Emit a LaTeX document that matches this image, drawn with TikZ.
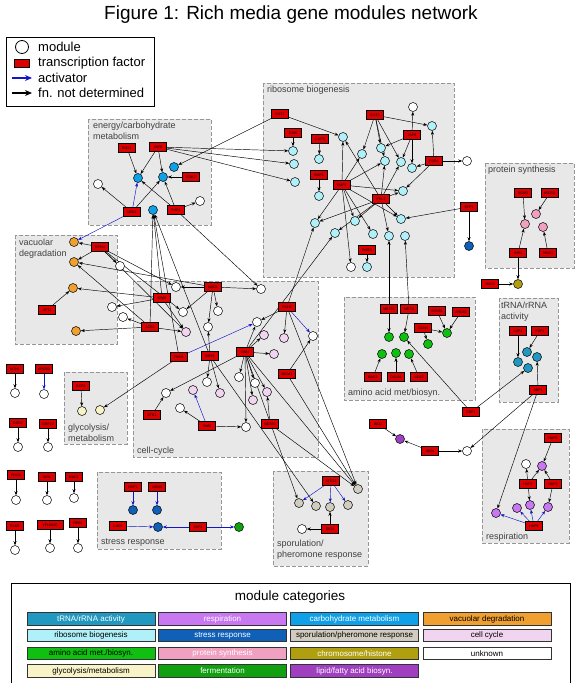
\documentclass[tikz,border=0pt]{standalone}
\usepackage{fontspec}
\setmainfont{Liberation Sans}
\usetikzlibrary{arrows.meta}
\definecolor{tfred}{RGB}{220,0,0}
\definecolor{grpfill}{RGB}{232,232,232}
\definecolor{grpline}{RGB}{150,150,150}
\definecolor{actblue}{RGB}{20,20,200}
\definecolor{trna}{RGB}{32,152,192}
\definecolor{resp}{RGB}{200,120,240}
\definecolor{carb}{RGB}{16,160,232}
\definecolor{vac}{RGB}{240,160,48}
\definecolor{ribo}{RGB}{176,240,248}
\definecolor{stress}{RGB}{16,96,184}
\definecolor{spor}{RGB}{208,204,192}
\definecolor{cellc}{RGB}{240,212,240}
\definecolor{amino}{RGB}{16,192,16}
\definecolor{prot}{RGB}{240,160,192}
\definecolor{chrom}{RGB}{176,160,16}
\definecolor{glyc}{RGB}{248,244,200}
\definecolor{ferm}{RGB}{16,160,16}
\definecolor{lipid}{RGB}{160,64,192}
\pgfdeclarelayer{back}
\pgfsetlayers{back,main}
\tikzset{
  modbox/.style={circle, draw, fill=white, line width=0.5pt, minimum size=9pt, inner sep=0pt},
  tfbox/.style={rectangle, draw, fill=tfred, line width=0.5pt, minimum width=17pt, minimum height=9pt, inner sep=0.5pt, font=\fontsize{3.6}{4}\selectfont},
  grp/.style={draw=grpline, dash pattern=on 4pt off 2pt, fill=grpfill, line width=0.7pt},
  grplabel/.style={inner sep=0pt, align=left, text=black!75, font=\fontsize{9}{10.5}\selectfont},
  reg/.style={-{Stealth[length=4pt,width=3pt]}, line width=0.45pt},
  act/.style={reg, draw=actblue},
  catcell/.style={draw=black!80, line width=0.8pt, minimum width=128pt, minimum height=12.5pt, inner sep=0pt, font=\fontsize{8}{9}\selectfont},
  legtext/.style={anchor=west, inner sep=0pt, font=\fontsize{13}{15}\selectfont},
}
\begin{document}
\begin{tikzpicture}[x=1pt,y=-1pt]
\useasboundingbox (0,0) rectangle (581,683);

% title and legend
\node[font=\fontsize{19}{22}\selectfont, anchor=base] (title) at (291,19) {Figure 1: Rich media gene modules network};
\draw[line width=1pt] (6,37) rectangle (154,106);
\node[modbox, minimum size=13pt, line width=0.8pt] (legmod) at (22,47) {};
\node[draw, fill=tfred, minimum width=15pt, minimum height=8pt, inner sep=0pt] (legtf) at (21.5,63) {};
\coordinate (legas) at (12,78);
\coordinate (legae) at (32,78);
\coordinate (legbs) at (12,93);
\coordinate (legbe) at (32,93);
\draw[draw=actblue, line width=1.6pt, -{Stealth[length=7pt,width=6pt]}] (legas) -- (legae);
\draw[line width=1.6pt, -{Stealth[length=7pt,width=6pt]}] (legbs) -- (legbe);
\node[legtext] (legt1) at (38,47) {module};
\node[legtext] (legt2) at (38,63) {transcription factor};
\node[legtext] (legt3) at (38,78) {activator};
\node[legtext] (legt4) at (38,93) {fn. not determined};

% module boxes
\begin{pgfonlayer}{back}
\draw[grp] (88,119) rectangle (211,225);
\draw[grp] (263,83) rectangle (454,277);
\draw[grp] (485,163) rectangle (574,268);
\draw[grp] (15,235) rectangle (117,344);
\draw[grp] (133,281) rectangle (318,457);
\draw[grp] (344,297) rectangle (475,400);
\draw[grp] (499,298) rectangle (558,402);
\draw[grp] (482,429) rectangle (569,543);
\draw[grp] (64,372) rectangle (127,444);
\draw[grp] (97,472) rectangle (221,549);
\draw[grp] (273,471) rectangle (368,566);
\end{pgfonlayer}
\node[grplabel, anchor=north west] (lbenergy) at (93,122) {energy/carbohydrate\\metabolism};
\node[grplabel, anchor=north west] (lbribo) at (267,86) {ribosome biogenesis};
\node[grplabel, anchor=north west] (lbprot) at (488,166) {protein synthesis};
\node[grplabel, anchor=north west] (lbvac) at (19,239) {vacuolar\\degradation};
\node[grplabel, anchor=north west] (lbtrna) at (501,302) {tRNA/rRNA\\activity};
\node[grplabel, anchor=base west] (lbcell) at (137,453) {cell-cycle};
\node[grplabel, anchor=base west] (lbamino) at (348,395) {amino acid met/biosyn.};
\node[grplabel, anchor=base west] (lbresp) at (486,539) {respiration};
\node[grplabel, anchor=north west] (lbglyc) at (68,424) {glycolysis/\\metabolism};
\node[grplabel, anchor=base west] (lbstress) at (101,544) {stress response};
\node[grplabel, anchor=north west] (lbspor) at (277,540) {sporulation/\\pheromone response};

% energy/carbohydrate metabolism
\node[tfbox] (rox1) at (127,148) {ROX1};
\node[tfbox] (yap6) at (158,147) {YAP6};
\node[tfbox] (sok2) at (191,177) {SOK2};
\node[tfbox] (nrg1) at (132,212) {NRG1};
\node[tfbox] (phd1) at (176,210) {PHD1};
\node[modbox, fill=carb] (en1) at (138,178) {};
\node[modbox, fill=carb] (en2) at (163,177) {};
\node[modbox, fill=carb] (en3) at (174,167) {};
\node[modbox, fill=carb] (en4) at (153,210) {};
\node[modbox] (enw1) at (98,184) {};
\node[modbox] (enw2) at (200,201) {};

% ribosome biogenesis
\node[tfbox] (gat1) at (280,114) {GAT1};
\node[tfbox] (cin5) at (293,133) {CIN5};
\node[tfbox] (cup9) at (320,139) {CUP9};
\node[tfbox] (smp1) at (319,175) {SMP1};
\node[tfbox] (rap1) at (342,185) {RAP1};
\node[tfbox] (fhl1) at (381,199) {FHL1};
\node[tfbox] (gat3) at (375,115) {GAT3};
\node[tfbox] (yap5) at (412,135) {YAP5};
\node[tfbox] (pdr1) at (434,161) {PDR1};
\node[tfbox] (rme1) at (367,250) {RME1};
\node[tfbox] (sfp1) at (469,207) {SFP1};
\node[modbox, fill=ribo] (rb1) at (293,151) {};
\node[modbox, fill=ribo] (rb2) at (294,164) {};
\node[modbox, fill=ribo] (rb3) at (295,182) {};
\node[modbox, fill=ribo] (rb4) at (319,159) {};
\node[modbox, fill=ribo] (rb5) at (319,196) {};
\node[modbox, fill=ribo] (rb6) at (343,137) {};
\node[modbox, fill=ribo] (rb7) at (362,154) {};
\node[modbox, fill=ribo] (rb8) at (381,148) {};
\node[modbox, fill=ribo] (rb9) at (385,161) {};
\node[modbox, fill=ribo] (rb10) at (401,162) {};
\node[modbox, fill=ribo] (rb11) at (412,168) {};
\node[modbox, fill=ribo] (rb12) at (432,126) {};
\node[modbox, fill=ribo] (rb13) at (403,191) {};
\node[modbox, fill=ribo] (rb14) at (315,223) {};
\node[modbox, fill=ribo] (rb15) at (335,233) {};
\node[modbox, fill=ribo] (rb16) at (355,221) {};
\node[modbox, fill=ribo] (rb17) at (373,234) {};
\node[modbox, fill=ribo] (rb18) at (389,236) {};
\node[modbox, fill=ribo] (rb19) at (401,219) {};
\node[modbox, fill=ribo] (rb20) at (405,236) {};
\node[modbox, fill=ribo] (rb21) at (367,267) {};
\node[modbox] (rbw1) at (413,107) {};
\node[modbox] (rbw2) at (467,161) {};
\node[modbox] (rbw3) at (351,267) {};
\node[modbox, fill=stress] (sfpb) at (469,246) {};

% protein synthesis
\node[tfbox] (rgm1) at (523,193) {RGM1};
\node[tfbox] (mss11) at (550,193) {MSS11};
\node[tfbox] (hir1) at (518,253) {HIR1};
\node[tfbox] (hms1) at (548,253) {HMS1};
\node[tfbox] (hal9) at (490,284) {HAL9};
\node[modbox, fill=prot] (ps1) at (536,214) {};
\node[modbox, fill=prot] (ps2) at (525,224) {};
\node[modbox, fill=prot] (ps3) at (543,227) {};
\node[modbox, fill=chrom] (ch1) at (518,284) {};

% vacuolar degradation
\node[tfbox] (rpn4) at (100,247) {RPN4};
\node[tfbox] (aft2) at (47,310) {AFT2};
\node[modbox, fill=vac] (va1) at (74,242) {};
\node[modbox, fill=vac] (va2) at (74,262) {};
\node[modbox, fill=vac] (va3) at (73,288) {};
\node[modbox, fill=vac] (va4) at (76,331) {};
\node[modbox] (vaw1) at (120,266) {};
\node[modbox] (vaw2) at (112,307) {};
\node[modbox] (vaw3) at (123,317) {};

% cell-cycle
\node[tfbox] (swi6) at (162,298) {SWI6};
\node[tfbox] (ndd1) at (213,287) {NDD1};
\node[tfbox] (ace2) at (150,327) {ACE2};
\node[tfbox] (fkh1) at (179,357) {FKH1};
\node[tfbox] (mbp1) at (210,356) {MBP1};
\node[tfbox] (swi4) at (245,352) {SWI4};
\node[tfbox] (fkh2) at (287,307) {FKH2};
\node[tfbox] (mcm1) at (287,374) {MCM1};
\node[tfbox] (stb1) at (152,415) {STB1};
\node[tfbox] (swi5) at (207,426) {SWI5};
\node[tfbox] (ndt80) at (270,424) {NDT80};
\node[modbox] (ccw1) at (176,287) {};
\node[modbox] (ccw2) at (183,312) {};
\node[modbox] (ccw3) at (218,311) {};
\node[modbox] (ccw4) at (208,327) {};
\node[modbox] (ccw5) at (261,289) {};
\node[modbox] (ccw6) at (257,322) {};
\node[modbox] (ccw7) at (313,336) {};
\node[modbox] (ccw8) at (207,382) {};
\node[modbox] (ccw9) at (239,377) {};
\node[modbox] (ccw10) at (255,383) {};
\node[modbox] (ccw11) at (166,393) {};
\node[modbox] (ccw12) at (180,408) {};
\node[modbox] (ccw13) at (246,427) {};
\node[modbox, fill=cellc] (ccp1) at (186,332) {};
\node[modbox, fill=cellc] (ccp2) at (264,335) {};
\node[modbox, fill=cellc] (ccp3) at (284,338) {};
\node[modbox, fill=cellc] (ccp4) at (274,354) {};
\node[modbox, fill=cellc] (ccp5) at (193,390) {};
\node[modbox, fill=cellc] (ccp6) at (220,393) {};
\node[modbox, fill=cellc] (ccp7) at (253,400) {};
\node[modbox, fill=cellc] (ccp8) at (267,392) {};

% glycolysis/metabolism
\node[tfbox] (gcr1) at (81,386) {GCR1};
\node[modbox, fill=glyc] (gy1) at (82,411) {};
\node[modbox, fill=glyc] (gy2) at (100,410) {};

% single regulators
\node[tfbox] (mth1) at (15,369) {MTH1};
\node[modbox] (mth1m) at (15,393) {};
\node[tfbox] (aro80) at (44,369) {ARO80};
\node[modbox] (aro80m) at (44,394) {};
\node[tfbox] (gcr2) at (18,423) {GCR2};
\node[modbox] (gcr2m) at (18,447) {};
\node[tfbox] (grf10) at (48,424) {GRF10};
\node[modbox] (grf10m) at (48,447) {};
\node[tfbox] (pho4) at (16,475) {PHO4};
\node[modbox] (pho4m) at (16,500) {};
\node[tfbox] (ixr1) at (47,477) {IXR1};
\node[modbox] (ixr1m) at (47,500) {};
\node[tfbox] (mac1) at (74,477) {MAC1};
\node[modbox] (mac1m) at (74,498) {};
\node[tfbox] (rlm1) at (15,526) {RLM1};
\node[modbox] (rlm1m) at (15,550) {};
\node[tfbox, minimum width=26pt] (yfl) at (50,525) {YFL044C};
\node[modbox] (yflm) at (50,548) {};
\node[tfbox] (reb1) at (78,523) {REB1};
\node[modbox] (reb1m) at (78,548) {};

% amino acid met/biosyn.
\node[tfbox] (met31) at (389,309) {MET31};
\node[tfbox] (met4) at (409,309) {MET4};
\node[tfbox] (arg81) at (437,311) {ARG81};
\node[tfbox] (arg80) at (461,312) {ARG80};
\node[tfbox] (gcn4) at (423,328) {GCN4};
\node[tfbox] (bas1) at (373,377) {BAS1};
\node[tfbox] (dal81) at (396,377) {DAL81};
\node[tfbox] (leu3) at (419,377) {LEU3};
\node[tfbox] (cbf1) at (471,412) {CBF1};
\node[modbox, fill=amino] (aa1) at (389,337) {};
\node[modbox, fill=amino] (aa2) at (404,337) {};
\node[modbox, fill=amino] (aa3) at (447,333) {};
\node[modbox, fill=amino] (aa4) at (428,344) {};
\node[modbox, fill=amino] (aa5) at (382,354) {};
\node[modbox, fill=amino] (aa6) at (396,353) {};
\node[modbox, fill=amino] (aa7) at (409,354) {};

% tRNA/rRNA activity
\node[tfbox] (azf1) at (518,331) {AZF1};
\node[tfbox] (fzf1) at (540,331) {FZF1};
\node[tfbox] (abf1) at (538,390) {ABF1};
\node[modbox, fill=trna] (tr1) at (527,352) {};
\node[modbox, fill=trna] (tr2) at (518,362) {};
\node[modbox, fill=trna] (tr3) at (537,357) {};
\node[modbox, fill=trna] (tr4) at (528,368) {};

% lipid and respiration
\node[tfbox] (ino2) at (378,424) {INO2};
\node[tfbox] (ino4) at (430,451) {INO4};
\node[modbox, fill=lipid] (lp1) at (400,439) {};
\node[modbox] (inow) at (467,451) {};
\node[tfbox] (hap5) at (553,438) {HAP5};
\node[tfbox] (hap2) at (528,484) {HAP2};
\node[tfbox] (hap3) at (553,484) {HAP3};
\node[tfbox] (hap4) at (534,526) {HAP4};
\node[modbox, fill=resp] (rstop) at (542,466) {};
\node[modbox] (rsw) at (526,464) {};
\node[modbox, fill=resp] (rs1) at (496,513) {};
\node[modbox, fill=resp] (rs2) at (517,508) {};
\node[modbox, fill=resp] (rs3) at (530,505) {};
\node[modbox, fill=resp] (rs4) at (548,507) {};

% stress response
\node[tfbox] (hsf1) at (133,487) {HSF1};
\node[tfbox] (msn4) at (157,487) {MSN4};
\node[tfbox] (cad1) at (118,526) {CAD1};
\node[tfbox] (yap1) at (198,527) {YAP1};
\node[modbox, fill=stress] (st1) at (133,510) {};
\node[modbox, fill=stress] (st2) at (157,510) {};
\node[modbox, fill=stress] (st3) at (158,527) {};
\node[modbox, fill=ferm] (stg) at (239,527) {};

% sporulation/pheromone response
\node[tfbox] (ste12) at (331,481) {STE12};
\node[tfbox] (dig1) at (330,529) {DIG1};
\node[modbox, fill=spor] (sg1) at (299,503) {};
\node[modbox, fill=spor] (sg2) at (316,506) {};
\node[modbox, fill=spor] (sg3) at (330,507) {};
\node[modbox, fill=spor] (sg4) at (348,505) {};
\node[modbox, fill=spor] (sg5) at (358,489) {};
\node[modbox] (spw) at (302,529) {};

% regulation edges
\begin{pgfonlayer}{back}
\draw[reg] (rox1) -- (en1);
\draw[reg] (yap6) -- (en1);
\draw[reg] (yap6) -- (en2);
\draw[reg] (sok2) -- (en2);
\draw[act] (nrg1) -- (en1);
\draw[reg] (nrg1) -- (enw1);
\draw[reg] (nrg1) -- (en2);
\draw[reg] (phd1) -- (en2);
\draw[reg] (phd1) -- (en1);
\draw[reg] (phd1) -- (enw2);
\draw[reg] (gat1) -- (en3);
\draw[reg] (yap6) -- (rb1);
\draw[reg] (yap6) -- (rb2);
\draw[reg] (yap6) -- (rb3);
\draw[act] (nrg1) -- (va1);
\draw[reg] (phd1) -- (ccw5);
\draw[reg] (gat1) -- (rb6);
\draw[reg] (cin5) -- (rb1);
\draw[reg] (cup9) -- (rb4);
\draw[reg] (smp1) -- (rb5);
\draw[reg] (rap1) -- (rb6);
\draw[reg] (rap1) -- (rb7);
\draw[reg] (rap1) -- (rb9);
\draw[reg] (rap1) -- (rb13);
\draw[reg] (rap1) -- (rb14);
\draw[reg] (rap1) -- (rb16);
\draw[reg] (rap1) -- (rb17);
\draw[reg] (rap1) -- (rb19);
\draw[reg] (rap1) -- (rbw3);
\draw[reg] (gat3) -- (rb12);
\draw[reg] (gat3) -- (rb7);
\draw[reg] (gat3) -- (rb8);
\draw[reg] (gat3) -- (rb10);
\draw[reg] (gat3) -- (rb9);
\draw[reg] (yap5) -- (rb8);
\draw[reg] (yap5) -- (rb10);
\draw[reg] (yap5) -- (rb11);
\draw[reg] (yap5) -- (rbw1);
\draw[reg] (pdr1) -- (rb12);
\draw[reg] (pdr1) -- (rbw2);
\draw[reg] (pdr1) -- (rb11);
\draw[reg] (pdr1) -- (rb13);
\draw[reg] (fhl1) -- (rb6);
\draw[reg] (fhl1) -- (rb14);
\draw[reg] (fhl1) -- (rb15);
\draw[reg] (fhl1) -- (rb16);
\draw[reg] (fhl1) -- (rb18);
\draw[reg] (fhl1) -- (rb19);
\draw[reg] (fhl1) -- (rb13);
\draw[reg] (fhl1) -- (rb9);
\draw[reg] (fhl1) -- (rb10);
\draw[reg] (sfp1) -- (rb19);
\draw[reg] (sfp1) -- (sfpb);
\draw[reg] (rme1) -- (rb21);
\draw[reg] (met31) -- (rb18);
\draw[reg] (met4) -- (rb20);
\draw[reg] (rgm1) -- (ps2);
\draw[reg] (mss11) -- (ps1);
\draw[reg] (hir1) -- (ps2);
\draw[reg] (hms1) -- (ps3);
\draw[reg] (hir1) -- (ch1);
\draw[reg] (hal9) -- (ch1);
\draw[reg] (rpn4) -- (va1);
\draw[reg] (rpn4) -- (va2);
\draw[reg] (rpn4) -- (vaw1);
\draw[reg] (aft2) -- (va3);
\draw[reg] (ace2) -- (va4);
\draw[reg] (ace2) -- (vaw3);
\draw[reg] (swi6) -- (vaw2);
\draw[reg] (swi6) -- (va3);
\draw[reg] (ndd1) -- (va2);
\draw[reg] (ace2) -- (va2);
\draw[reg] (rpn4) -- (ccw1);
\draw[reg] (rpn4) -- (ccp1);
\draw[reg] (rpn4) -- (ccw2);
\draw[reg] (ndd1) -- (ccw1);
\draw[reg] (ndd1) -- (ccw5);
\draw[reg] (ndd1) -- (ccw3);
\draw[reg] (ndd1) -- (ccw4);
\draw[reg] (ndd1) -- (ccw2);
\draw[reg] (swi6) -- (ccp1);
\draw[reg] (ace2) -- (ccp1);
\draw[act] (fkh1) -- (ccw6);
\draw[act] (fkh2) -- (ccw7);
\draw[reg] (fkh2) -- (ccw6);
\draw[reg] (fkh2) -- (ccp3);
\draw[reg] (swi4) -- (ccp2);
\draw[reg] (swi4) -- (ccp4);
\draw[reg] (swi4) -- (ccw9);
\draw[reg] (swi4) -- (ccw10);
\draw[reg] (swi4) -- (ccp7);
\draw[reg] (swi4) -- (ccp8);
\draw[reg] (swi4) -- (ccw13);
\draw[reg] (swi4) -- (ccw11);
\draw[reg] (swi4) -- (ccw6);
\draw[reg] (mbp1) -- (ccw4);
\draw[reg] (mbp1) -- (ccw8);
\draw[reg] (mbp1) -- (ccp6);
\draw[act] (swi5) -- (ccp5);
\draw[reg] (swi5) -- (ccw13);
\draw[reg] (swi5) -- (ccw12);
\draw[reg] (stb1) -- (ccw11);
\draw[reg] (ndt80) -- (ccp8);
\draw[reg] (mcm1) -- (ccw7);
\draw[reg] (swi6) -- (en4);
\draw[reg] (ace2) -- (en4);
\draw[reg] (fkh1) -- (en4);
\draw[reg] (mbp1) -- (en4);
\draw[reg] (swi4) -- (sg1);
\draw[reg] (mbp1) -- (sg2);
\draw[reg] (fkh2) -- (sg5);
\draw[reg] (mcm1) -- (sg5);
\draw[reg] (swi4) -- (sg5);
\draw[reg] (ndt80) -- (sg5);
\draw[reg] (fkh2) -- (rb14);
\draw[reg] (swi4) -- (rb15);
\draw[reg] (fkh1) -- (gy2);
\draw[reg] (gcr1) -- (gy1);
\draw[act] (ste12) -- (sg1);
\draw[act] (ste12) -- (sg3);
\draw[act] (ste12) -- (sg4);
\draw[reg] (dig1) -- (sg3);
\draw[reg] (dig1) -- (spw);
\draw[act] (hsf1) -- (st1);
\draw[act] (msn4) -- (st2);
\draw[act] (cad1) -- (st3);
\draw[act] (yap1) -- (st3);
\draw[act] (yap1) -- (stg);
\draw[reg] (met31) -- (aa1);
\draw[reg] (met4) -- (aa2);
\draw[reg] (arg81) -- (aa3);
\draw[reg] (arg80) -- (aa3);
\draw[reg] (gcn4) -- (aa3);
\draw[reg] (gcn4) -- (aa4);
\draw[reg] (bas1) -- (aa5);
\draw[reg] (dal81) -- (aa6);
\draw[reg] (leu3) -- (aa7);
\draw[reg] (cbf1) -- (aa2);
\draw[reg] (cbf1) -- (tr4);
\draw[reg] (azf1) -- (tr2);
\draw[reg] (fzf1) -- (tr1);
\draw[reg] (abf1) -- (tr3);
\draw[reg] (abf1) -- (inow);
\draw[reg] (abf1) -- (rs1);
\draw[reg] (ino2) -- (lp1);
\draw[reg] (ino4) -- (lp1);
\draw[reg] (ino4) -- (inow);
\draw[reg] (hap5) -- (rstop);
\draw[reg] (hap2) -- (rstop);
\draw[reg] (hap3) -- (rstop);
\draw[reg] (hap2) -- (rsw);
\draw[reg] (hap2) -- (rs3);
\draw[reg] (hap3) -- (rs4);
\draw[act] (hap4) -- (rs1);
\draw[act] (hap4) -- (rs2);
\draw[act] (hap4) -- (rs3);
\draw[act] (hap4) -- (rs4);
\draw[reg] (mth1) -- (mth1m);
\draw[act] (aro80) -- (aro80m);
\draw[reg] (gcr2) -- (gcr2m);
\draw[reg] (grf10) -- (grf10m);
\draw[reg] (pho4) -- (pho4m);
\draw[reg] (ixr1) -- (ixr1m);
\draw[reg] (mac1) -- (mac1m);
\draw[reg] (rlm1) -- (rlm1m);
\draw[reg] (yfl) -- (yflm);
\draw[reg] (reb1) -- (reb1m);
\end{pgfonlayer}

% module categories
\draw[line width=1pt] (11,690) -- (11,583) -- (570,583) -- (570,690);
\node[font=\fontsize{13.5}{15}\selectfont] (cattitle) at (290,597) {module categories};
\node[catcell, fill=trna, text=white] (cattrna) at (91,619) {tRNA/rRNA activity};
\node[catcell, fill=resp, text=white] (catresp) at (222.5,619) {respiration};
\node[catcell, fill=carb, text=white] (catcarb) at (354.5,619) {carbohydrate metabolism};
\node[catcell, fill=vac] (catvac) at (487,619) {vacuolar degradation};
\node[catcell, fill=ribo] (catribo) at (91,635.5) {ribosome biogenesis};
\node[catcell, fill=stress, text=white] (catstress) at (222.5,635.5) {stress response};
\node[catcell, fill=spor] (catspor) at (354.5,635.5) {sporulation/pheromone response};
\node[catcell, fill=cellc] (catcell) at (487,635.5) {cell cycle};
\node[catcell, fill=amino] (catamino) at (91,653.5) {amino acid met./biosyn.};
\node[catcell, fill=prot, text=white] (catprot) at (222.5,653.5) {protein synthesis};
\node[catcell, fill=chrom, text=white] (catchrom) at (354.5,653.5) {chromosome/histone};
\node[catcell, fill=white] (catunk) at (487,653.5) {unknown};
\node[catcell, fill=glyc] (catglyc) at (91,671) {glycolysis/metabolism};
\node[catcell, fill=ferm, text=white] (catferm) at (222.5,671) {fermentation};
\node[catcell, fill=lipid, text=white] (catlipid) at (354.5,671) {lipid/fatty acid biosyn.};
\end{tikzpicture}
\end{document}
